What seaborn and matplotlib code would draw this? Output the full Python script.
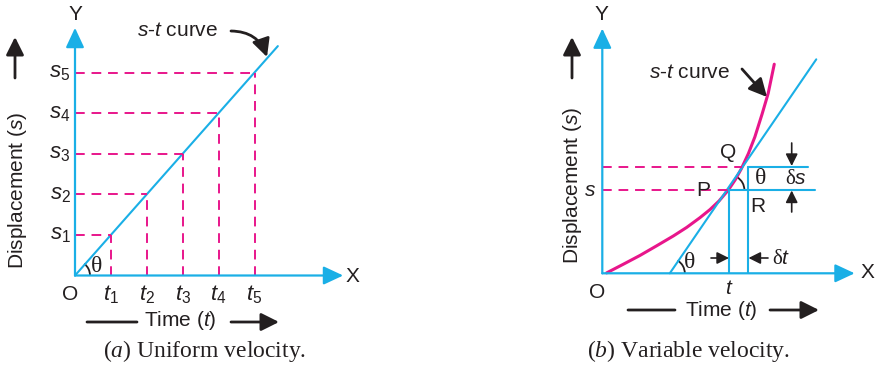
import seaborn as sns
import matplotlib.pyplot as plt
from matplotlib.patches import Arc, FancyArrowPatch

# --- values ---
# (a) uniform velocity: equally spaced instants and displacements
t_marks = [1, 2, 3, 4, 5]
s_marks = [1, 2, 3, 4, 5]
t_labels = [r'$t_1$', r'$t_2$', r'$t_3$', r'$t_4$', r'$t_5$']
s_labels = [r'$s_1$', r'$s_2$', r'$s_3$', r'$s_4$', r'$s_5$']
line_a_t = [0, 5.65]
line_a_s = [0, 5.65]

# (b) variable velocity: s-t curve and its tangent at P
curve_t = [0.12, 0.6, 1.05, 1.5, 1.98, 2.35, 2.72, 3.0, 3.25, 3.51, 3.70, 3.87, 4.07, 4.25, 4.45, 4.62, 4.79]
curve_s = [0.01, 0.23, 0.44, 0.67, 0.92, 1.13, 1.37, 1.57, 1.78, 2.05, 2.30, 2.57, 2.95, 3.36, 3.92, 4.43, 5.15]
tangent_t = [1.88, 5.96]
tangent_s = [0, 5.27]
p_t, p_s = 3.54, 2.05      # point P
q_t, q_s = 4.05, 2.63      # point Q (vertical through Q)
pr_end, qr_end = 5.92, 5.73  # right ends of the two horizontals

BLUE = '#1AAFE6'
PINK = '#E8168B'
INK = '#231F20'
W, H = 876, 368
UX, UY = 35.9, 40.6   # pixels per unit

sns.set_theme(style='white')
plt.rcParams['font.family'] = ['Liberation Sans', 'DejaVu Sans']
plt.rcParams['mathtext.fontset'] = 'custom'
plt.rcParams['mathtext.it'] = 'Liberation Sans:italic'
plt.rcParams['mathtext.rm'] = 'Liberation Sans'
plt.rcParams['mathtext.cal'] = 'Liberation Serif:italic'

fig = plt.figure(figsize=(W / 100, H / 100), dpi=100)
ax_a = fig.add_axes([0, 0, 0.5, 1])
ax_b = fig.add_axes([0.5, 0, 0.5, 1])


def frame(ax, ox, oy, left, right):
    ax.set_xlim((left - ox) / UX, (right - ox) / UX)
    ax.set_ylim((oy - H) / UY, oy / UY)
    ax.axis('off')


def ftext(x, y, s, size=15, **kw):
    fig.text(x / W, 1 - y / H, s, size=size, color=INK, ha='center', va='center', **kw)


def farrow(x0, y0, x1, y1, lw=2, ms=18, style='-|>,head_length=0.6,head_width=0.3', **kw):
    fig.add_artist(FancyArrowPatch(
        (x0 / W, 1 - y0 / H), (x1 / W, 1 - y1 / H), transform=fig.transFigure,
        arrowstyle=style, mutation_scale=ms, color=INK, lw=lw, shrinkA=0, shrinkB=0, **kw))


def axes_arrows(ax, xlen, ylen):
    ap = dict(arrowstyle='-|>,head_length=0.6,head_width=0.28', color=BLUE, lw=1.6,
              mutation_scale=20, shrinkA=0, shrinkB=0)
    ax.annotate('', xy=(xlen, 0), xytext=(0, 0), arrowprops=ap)
    ax.annotate('', xy=(0, ylen), xytext=(0, 0), arrowprops=ap)


# ---------- panel (a) ----------
sns.lineplot(x=line_a_t, y=line_a_s, ax=ax_a, color=BLUE, lw=1.5)
for t, s in zip(t_marks, s_marks):
    ax_a.plot([0, t], [s, s], color=PINK, lw=1.4, dashes=(5, 3.5))
    ax_a.plot([t, t], [0, s], color=PINK, lw=1.4, dashes=(5, 3.5))
for t, lab in zip(t_marks, t_labels):
    ax_a.annotate(lab, (t, 0), xytext=(0, -19), textcoords='offset pixels',
                  ha='center', va='center', size=16, color=INK)
for s, lab in zip(s_marks, s_labels):
    ax_a.annotate(lab, (0, s), xytext=(-15, 0), textcoords='offset pixels',
                  ha='center', va='center', size=16, color=INK)
axes_arrows(ax_a, 7.47, 6.10)
ax_a.add_patch(Arc((0, 0), 30 / UX, 30 / UY, theta1=0, theta2=48.5, color=INK, lw=1.3))
frame(ax_a, 75, 275.5, 0, 438)

ftext(97, 266, 'θ', size=17, family='Liberation Serif')
ftext(70, 294, 'O')
ftext(75, 15, 'Y')
ftext(352, 276, 'X')
ftext(178, 31, '$s$-$t$ curve')
farrow(231, 31, 267, 57, connectionstyle='arc3,rad=-0.35')
ftext(18, 190, 'Displacement ($s$)', rotation=90)
farrow(15, 78, 15, 37)
ftext(180, 321, 'Time ($t$)')
farrow(87, 322, 137, 322, style='-')
farrow(231, 322, 279, 322)
ftext(205, 351, r'($\mathcal{a}$) Uniform velocity.', size=17, family='Liberation Serif')

# ---------- panel (b) ----------
sns.lineplot(x=curve_t, y=curve_s, ax=ax_b, color=PINK, lw=2.2, sort=False, estimator=None)
sns.lineplot(x=tangent_t, y=tangent_s, ax=ax_b, color=BLUE, lw=1.5)
ax_b.plot([0, 3.51], [p_s, p_s], color=PINK, lw=1.4, dashes=(5, 3.5))
ax_b.plot([0, 3.9], [q_s, q_s], color=PINK, lw=1.4, dashes=(5, 3.5))
ax_b.plot([p_t, pr_end], [p_s, p_s], color=BLUE, lw=1.5)
ax_b.plot([q_t, qr_end], [q_s, q_s], color=BLUE, lw=1.5)
ax_b.plot([p_t, p_t], [0, p_s], color=BLUE, lw=1.5)
ax_b.plot([q_t, q_t], [0, q_s], color=BLUE, lw=1.5)
axes_arrows(ax_b, 7.03, 6.03)
ax_b.add_patch(Arc((tangent_t[0], 0), 30 / UX, 30 / UY, theta1=0, theta2=55.6, color=INK, lw=1.3))
ax_b.add_patch(Arc((p_t, p_s), 30 / UX, 30 / UY, theta1=0, theta2=55.6, color=INK, lw=1.3))
ax_b.annotate('$t$', (p_t, 0), xytext=(0, -15), textcoords='offset pixels',
              ha='center', va='center', size=15, color=INK)
ax_b.annotate('$s$', (0, p_s), xytext=(-12, 0), textcoords='offset pixels',
              ha='center', va='center', size=15, color=INK)
frame(ax_b, 602.3, 273.3, 438, 876)

ftext(597, 293, 'O')
ftext(601, 15, 'Y')
ftext(867, 273, 'X')
ftext(728, 153, 'Q')
ftext(703, 191, 'P')
ftext(758, 206, 'R')
ftext(690, 263, 'θ', size=17, family='Liberation Serif')
ftext(761, 179, 'θ', size=17, family='Liberation Serif')
ftext(796, 179, 'δ$s$', family='Liberation Serif')
ftext(781, 259, 'δ$t$', family='Liberation Serif')
farrow(791.7, 143, 791.7, 166, lw=1.2, ms=12)
farrow(791.7, 212, 791.7, 190.5, lw=1.2, ms=12)
farrow(711, 258, 729, 258, lw=1.2, ms=12)
farrow(768, 258, 748.5, 258, lw=1.2, ms=12)
ftext(690, 72, '$s$-$t$ curve')
farrow(742, 69, 767, 97)
ftext(573, 185, 'Displacement ($s$)', rotation=90)
farrow(572, 78, 572, 37)
ftext(721, 310, 'Time ($t$)')
farrow(628, 310, 675, 310, style='-')
farrow(770, 310, 819, 310)
ftext(689, 351, r'($\mathcal{b}$) Variable velocity.', size=17, family='Liberation Serif')

fig.savefig('out.png', dpi=100, facecolor='white')
